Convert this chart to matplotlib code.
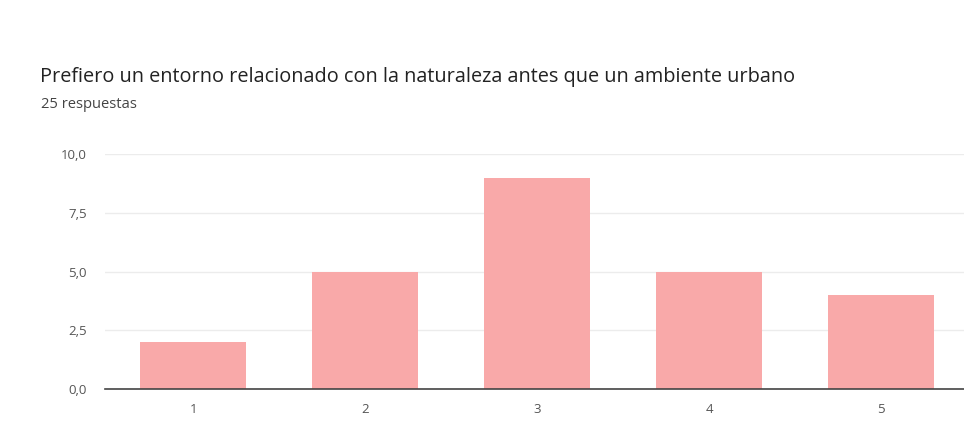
import matplotlib
matplotlib.use('Agg')
import matplotlib.pyplot as plt
import numpy as np

categories = ['1', '2', '3', '4', '5']
counts = [2, 5, 9, 5, 4]
yticks = [0, 2.5, 5, 7.5, 10]
ytick_labels = ['0,0', '2,5', '5,0', '7,5', '10,0']

TITLE = 'Prefiero un entorno relacionado con la naturaleza antes que un ambiente urbano'
SUBTITLE = '25 respuestas'

plt.rcParams['font.family'] = ['Open Sans', 'DejaVu Sans']

fig = plt.figure(figsize=(9.64, 4.43), dpi=100)
fig.patch.set_facecolor('white')
ax = fig.add_axes([0.109, 0.122, 0.891, 0.530])

x = np.arange(len(categories))
ax.bar(x, counts, width=0.616, color='#f9a9a9', zorder=2)

ax.set_xlim(-0.512, 4.483)
ax.set_ylim(0, 10)
ax.set_xticks(x)
ax.set_xticklabels(categories)
ax.set_yticks(yticks)
ax.set_yticklabels(ytick_labels)
ax.tick_params(length=0, labelsize=9.5, colors='#555555', pad=13)
ax.tick_params(axis='x', pad=10)
ax.grid(axis='y', color='#ececec', linewidth=1, zorder=0)
for side in ['top', 'right', 'left']:
    ax.spines[side].set_visible(False)
ax.spines['bottom'].set_color('#444444')
ax.spines['bottom'].set_linewidth(1.2)
ax.spines['bottom'].set_zorder(3)

fig.text(40 / 964, 1 - 77 / 443, TITLE, fontsize=14.3, color='#222222', va='center', ha='left')
fig.text(41 / 964, 1 - 104 / 443, SUBTITLE, fontsize=10.6, color='#444444', va='center', ha='left')

fig.savefig('out.png', dpi=100)
